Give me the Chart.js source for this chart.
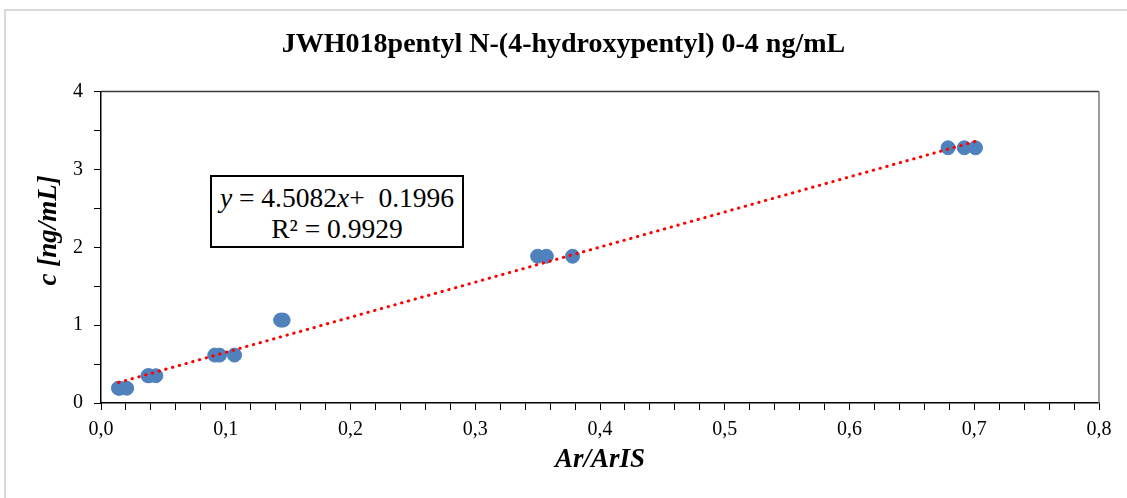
<!DOCTYPE html>
<html>
<head>
<meta charset="utf-8">
<script src="https://cdn.jsdelivr.net/npm/chart.js@4/dist/chart.umd.min.js"></script>
<style>
  body { margin: 0; background: #ffffff; }
  #wrap { position: relative; width: 1127px; height: 498px; overflow: hidden; }
  #frame { position: absolute; left: 4px; top: 9px; width: 1200px; height: 600px;
           border-top: 2px solid #d9d9d9; border-left: 2px solid #d9d9d9; }
  #myChart { position: absolute; left: 0; top: 0; }
  #eqBox { position: absolute; left: 210px; top: 175px; width: 254px; height: 73px;
           box-sizing: border-box; border: 2px solid #000; background: #fff;
           font-family: "Liberation Serif", "Times New Roman", serif; font-size: 27.5px;
           line-height: 31px; text-align: center; padding-top: 5px; color: #000;
           white-space: nowrap; }
</style>
</head>
<body>
<div id="wrap">
  <div id="frame"></div>
  <canvas id="myChart" width="1127" height="498"></canvas>
  <div id="eqBox"><i>y</i> = 4.5082<i>x</i>+&nbsp; 0.1996<br>R² = 0.9929</div>
</div>
<script>
// Data (Ar/ArIS vs concentration)
const ratioX = [0.0140, 0.0150, 0.0206, 0.0376, 0.0386, 0.0440, 0.0912, 0.0950, 0.1070,
                0.1440, 0.1460, 0.3500, 0.3570, 0.3780, 0.6790, 0.6920, 0.7010];
const concY = [0.19, 0.19, 0.19, 0.35, 0.35, 0.35, 0.615, 0.615, 0.615,
               1.065, 1.065, 1.885, 1.885, 1.885, 3.278, 3.278, 3.278];

// Trend line from the equation shown in the chart
const slope = 4.5082;
const intercept = 0.1996;

const xTicks = { min: 0, max: 0.8, step: 0.02, labelEvery: 0.1 };
const yTicks = { min: 0, max: 4, step: 0.5, labelEvery: 1 };

let points = ratioX.map((x, i) => ({ x: x, y: concY[i] }));
let minX = Math.min(...ratioX);
let maxX = Math.max(...ratioX);
let trend = [
    { x: minX, y: slope * minX + intercept },
    { x: maxX, y: slope * maxX + intercept }
];

const serif = "'Liberation Serif', 'Times New Roman', serif";

// draws top + right lines of the plot area
const plotBorder = {
    id: 'plotBorder',
    afterDraw(chart) {
        let a = chart.chartArea;
        let c = chart.ctx;
        c.save();
        c.lineWidth = 1.5;
        c.strokeStyle = '#3a3a3a';
        c.beginPath();
        c.moveTo(a.left, a.top);
        c.lineTo(a.right, a.top);
        c.stroke();
        c.strokeStyle = '#7a7a7a';
        c.beginPath();
        c.moveTo(a.right, a.top);
        c.lineTo(a.right, a.bottom);
        c.stroke();
        c.restore();
    }
};

let ctx = document.getElementById('myChart').getContext('2d');

new Chart(ctx, {
    type: 'scatter',
    data: {
        datasets: [
            {
                type: 'line',
                label: 'Trend',
                data: trend,
                borderColor: '#ff0000',
                borderWidth: 3,
                borderDash: [0.5, 6.5],
                borderCapStyle: 'round',
                pointRadius: 0,
                fill: false,
                order: 0
            },
            {
                label: 'c',
                data: points,
                backgroundColor: '#4f81bd',
                borderColor: '#4f81bd',
                pointRadius: 7,
                pointHoverRadius: 7,
                order: 1
            }
        ]
    },
    options: {
        responsive: false,
        animation: false,
        layout: { padding: 0 },
        plugins: {
            legend: { display: false },
            tooltip: { enabled: false },
            title: {
                display: true,
                text: 'JWH018pentyl N-(4-hydroxypentyl) 0-4 ng/mL',
                color: '#000',
                font: { family: serif, size: 28, weight: 'bold', lineHeight: 1.2 },
                padding: { top: 28, bottom: 30 }
            }
        },
        scales: {
            x: {
                type: 'linear',
                min: xTicks.min,
                max: xTicks.max,
                afterFit: (s) => { s.height = 95; },
                afterBuildTicks: (s) => {
                    let t = [];
                    for (let i = 0; i <= Math.round((xTicks.max - xTicks.min) / xTicks.step); i++) {
                        t.push({ value: +(xTicks.min + i * xTicks.step).toFixed(4) });
                    }
                    s.ticks = t;
                },
                ticks: {
                    autoSkip: false,
                    maxRotation: 0,
                    padding: 8,
                    color: '#000',
                    font: { family: serif, size: 20 },
                    callback: (v) => {
                        let n = Math.round(v / xTicks.step);
                        let every = Math.round(xTicks.labelEvery / xTicks.step);
                        return n % every === 0 ? v.toFixed(1).replace('.', ',') : '';
                    }
                },
                grid: { drawOnChartArea: false, drawTicks: true, tickLength: 7, tickColor: '#000' },
                border: { display: true, color: '#000', width: 1.5 },
                title: {
                    display: true,
                    text: 'Ar/ArIS',
                    color: '#000',
                    font: { family: serif, size: 27, weight: 'bold', style: 'italic', lineHeight: 1.2 },
                    padding: { top: 0, bottom: 22 }
                }
            },
            y: {
                type: 'linear',
                min: yTicks.min,
                max: yTicks.max,
                afterFit: (s) => { s.width = 101; },
                ticks: {
                    stepSize: yTicks.step,
                    padding: 11,
                    color: '#000',
                    font: { family: serif, size: 20 },
                    callback: (v) => (Math.abs(v % yTicks.labelEvery) < 1e-9 ? String(v) : '')
                },
                grid: { drawOnChartArea: false, drawTicks: true, tickLength: 7, tickColor: '#000' },
                border: { display: true, color: '#000', width: 1.5 },
                title: {
                    display: true,
                    text: '     c [ng/mL]',
                    color: '#000',
                    font: { family: serif, size: 27, weight: 'bold', style: 'italic', lineHeight: 1.2 },
                    padding: { top: 33, bottom: 0 }
                }
            },
            yRight: {
                type: 'linear',
                position: 'right',
                min: 0,
                max: 4,
                afterFit: (s) => { s.width = 28; },
                ticks: { display: false },
                grid: { display: false },
                border: { display: false }
            }
        }
    },
    plugins: [plotBorder]
});
</script>
</body>
</html>
